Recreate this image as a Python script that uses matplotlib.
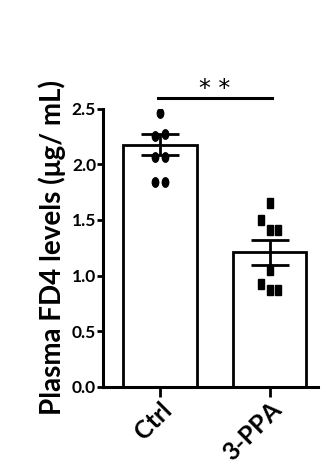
import matplotlib
matplotlib.use('Agg')
from matplotlib import pyplot as plt
from matplotlib.markers import MarkerStyle
from matplotlib.transforms import Affine2D, ScaledTranslation

# values
groups = ['Ctrl', '3-PPA']
bar_means = [2.175, 1.21]
bar_sem = [0.094, 0.112]
ctrl_points = [2.46, 2.255, 2.275, 2.07, 2.07, 1.84, 1.84]
ctrl_offsets = [0.0, -0.045, 0.045, -0.045, 0.045, -0.045, 0.045]
ppa_points = [1.655, 1.50, 1.41, 1.41, 1.05, 0.925, 0.87, 0.87]
ppa_offsets = [0.0, -0.08, 0.0, 0.075, 0.0, -0.08, 0.0, 0.075]
y_ticks = [0.0, 0.5, 1.0, 1.5, 2.0, 2.5]

plt.rcParams['font.family'] = ['Lato', 'DejaVu Sans']
plt.rcParams['font.weight'] = 'bold'

fig = plt.figure(figsize=(3.27, 4.67), dpi=100)
ax = fig.add_axes([0.315, 0.172, 0.657, 0.595])

x = [0, 1]
ax.bar(x, bar_means, width=0.667, color='white', edgecolor='black', linewidth=2.0, zorder=1)
ax.errorbar(x, bar_means, yerr=bar_sem, fmt='none', ecolor='black', elinewidth=2.0,
            capsize=13.5, capthick=2.0, zorder=3)

# points look vertically stretched in the reference
circ = MarkerStyle('o', transform=Affine2D().scale(0.68, 1.0))
sq = MarkerStyle('s', transform=Affine2D().scale(0.6, 1.0))
ax.plot([0 + o for o in ctrl_offsets], ctrl_points, linestyle='none', marker=circ,
        markersize=6.8, color='black', zorder=4)
ax.plot([1 + o for o in ppa_offsets], ppa_points, linestyle='none', marker=sq,
        markersize=6.8, color='black', zorder=4)

# significance bar
ax.plot([-0.02, 1.02], [2.6, 2.6], color='black', linewidth=2.2, clip_on=False)
ax.text(0.5, 2.615, '* *', ha='center', va='baseline', fontsize=17, family='DejaVu Sans',
        fontweight='normal', clip_on=False)

ax.set_xlim(-0.52, 1.44)
ax.set_ylim(0, 2.5)
ax.set_yticks(y_ticks)
ax.set_yticklabels([f'{v:.1f}' for v in y_ticks], fontsize=12.5, fontweight='bold')
ax.set_xticks(x)
ax.set_xticklabels(groups, rotation=45, ha='right', rotation_mode='anchor', fontsize=18, fontweight='bold')
shift = ScaledTranslation(0.04, 0.0, fig.dpi_scale_trans)
for lbl in ax.get_xticklabels():
    lbl.set_transform(lbl.get_transform() + shift)
ax.tick_params(axis='y', length=4, width=2, pad=1)
ax.tick_params(axis='x', length=7, width=2, pad=1)

ax.spines['top'].set_visible(False)
ax.spines['right'].set_visible(False)
ax.spines['left'].set_linewidth(2.2)
ax.spines['bottom'].set_linewidth(2.2)

ax.set_ylabel('Plasma FD4 levels (μg/ mL)', fontsize=20, fontweight='bold', labelpad=4)

fig.savefig('out.png', dpi=100)
